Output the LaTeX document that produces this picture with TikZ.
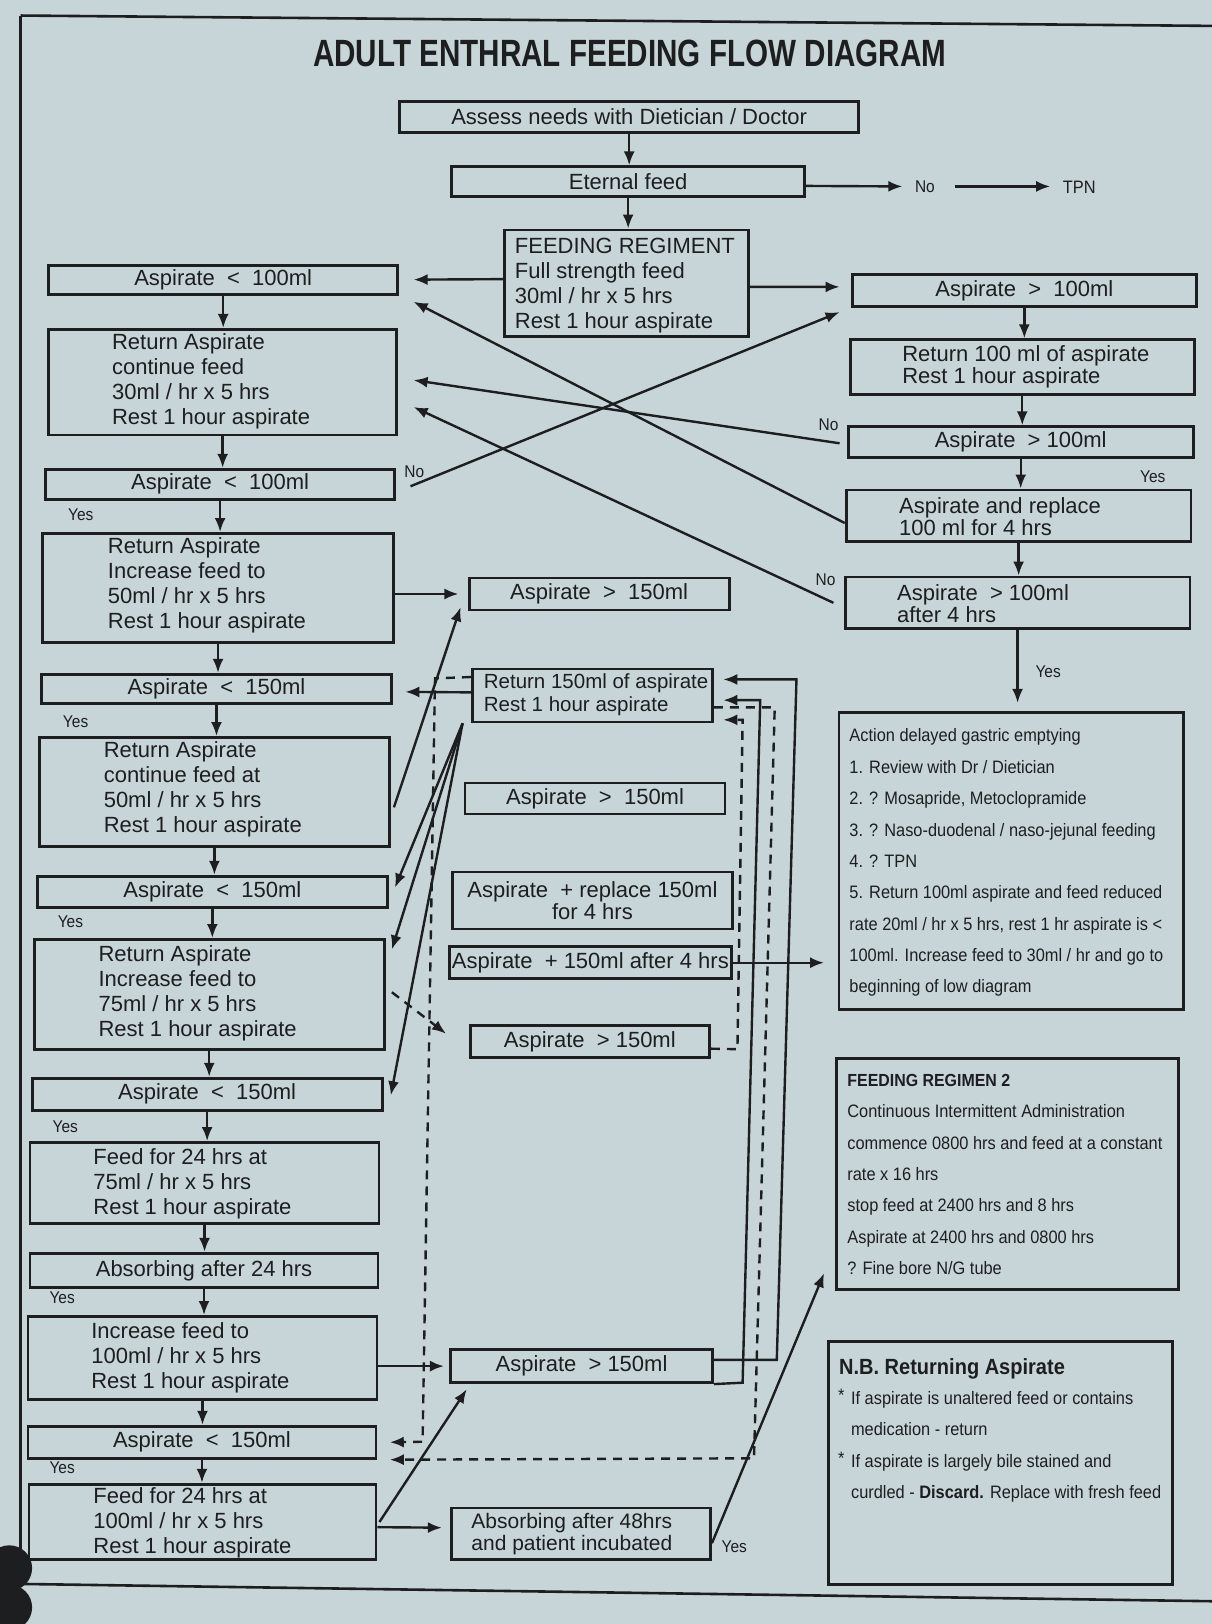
\documentclass[tikz,border=0pt]{standalone}
\usepackage{fontspec}
\setmainfont{Liberation Sans}
\newfontfamily\titlefam[FakeStretch=0.78]{Liberation Sans}
\newfontfamily\narrowfam[FakeStretch=0.91]{Liberation Sans}
\usetikzlibrary{arrows.meta,fit,calc}

\definecolor{paper}{RGB}{200,213,216}
\definecolor{ink}{RGB}{28,30,32}

\newcommand\fTitle{\titlefam\bfseries\fontsize{38}{40}\selectfont}
\newcommand\fBody{\fontsize{22}{24.9}\selectfont}
\newcommand\fMid{\fontsize{20.5}{22.8}\selectfont}
\newcommand\fRight{\fontsize{22}{22.3}\selectfont}
\newcommand\fNote{\narrowfam\fontsize{18}{31.4}\selectfont}
\newcommand\fLbl{\narrowfam\fontsize{17}{18}\selectfont}

\tikzset{
  box/.style={draw=ink, line width=2.8pt, inner sep=0pt},
  txt/.style={text=ink, font=\fBody, inner sep=0pt},
  ltxt/.style={txt, anchor=west, align=left},
  lbl/.style={text=ink, font=\fLbl, inner sep=0pt},
  ln/.style={draw=ink, line width=2.4pt},
  arr/.style={ln, -{Latex[length=14pt,width=11pt]}},
  dsh/.style={dash pattern=on 9pt off 7pt},
}

\begin{document}
\begin{tikzpicture}[x=1.0359pt,y=-1.0359pt]
\useasboundingbox (0,0) rectangle (1170,1568);
\fill[paper] (0,0) rectangle (1170,1568);

% sheet frame and binder holes
\draw[ink, line width=2.6pt] (20,15) -- (1170,25);
\draw[ink, line width=2.6pt] (20,15) -- (20,1530);
\draw[ink, line width=2.6pt] (0,1529) -- (1170,1546);
\fill[ink] (9,1514) circle (22);
\fill[ink] (9,1552) circle (22);

% title
\node[font=\fTitle, text=ink, inner sep=0pt] (title) at (608,52) {ADULT ENTHRAL FEEDING FLOW DIAGRAM};

% ---------- top of the flow ----------
\node[box, fit={(386,98) (829,128)}] (assess) {};
\node[txt] (assesst) at (assess) {Assess needs with Dietician / Doctor};
\node[box, fit={(436,161) (777,190)}] (eternal) {};
\node[txt] (eternalt) at (eternal) {Eternal feed};
\node[lbl] (noE) at (893,180) {No};
\node[lbl, font=\narrowfam\fontsize{18}{19}\selectfont] (tpn) at (1042,181) {TPN};
\node[box, fit={(487,222) (723,325)}] (fr) {};
\node[ltxt] (frt) at (497,276) {FEEDING REGIMENT\\Full strength feed\\30ml / hr x 5 hrs\\Rest 1 hour aspirate};

% ---------- left column ----------
\node[box, fit={(47,256) (384,284)}] (L1) {};
\node[txt] (L1t) at (L1) {Aspirate~~<~~100ml};
\node[box, fit={(47,318) (383,420)}] (L2) {};
\node[ltxt] (L2t) at (108,368) {Return Aspirate\\continue feed\\30ml / hr x 5 hrs\\Rest 1 hour aspirate};
\node[box, fit={(44,453) (381,482)}] (L3) {};
\node[txt] (L3t) at (L3) {Aspirate~~<~~100ml};
\node[box, fit={(41,515) (380,620)}] (L4) {};
\node[ltxt] (L4t) at (104,565) {Return Aspirate\\Increase feed to\\50ml / hr x 5 hrs\\Rest 1 hour aspirate};
\node[box, fit={(40,651) (378,679)}] (L5) {};
\node[txt] (L5t) at (L5) {Aspirate~~<~~150ml};
\node[box, fit={(38,712) (376,817)}] (L6) {};
\node[ltxt] (L6t) at (100,762) {Return Aspirate\\continue feed at\\50ml / hr x 5 hrs\\Rest 1 hour aspirate};
\node[box, fit={(36,846) (374,876)}] (L7) {};
\node[txt] (L7t) at (L7) {Aspirate~~<~~150ml};
\node[box, fit={(33,907) (371,1013)}] (L8) {};
\node[ltxt] (L8t) at (95,959) {Return Aspirate\\Increase feed to\\75ml / hr x 5 hrs\\Rest 1 hour aspirate};
\node[box, fit={(31,1041) (369,1072)}] (L9) {};
\node[txt] (L9t) at (L9) {Aspirate~~<~~150ml};
\node[box, fit={(29,1103) (366,1181)}] (L10) {};
\node[ltxt] (L10t) at (90,1143) {Feed for 24 hrs at\\75ml / hr x 5 hrs\\Rest 1 hour aspirate};
\node[box, fit={(29,1210) (365,1243)}] (L11) {};
\node[txt] (L11t) at (L11) {Absorbing after 24 hrs};
\node[box, fit={(27,1271) (364,1351)}] (L12) {};
\node[ltxt] (L12t) at (88,1311) {Increase feed to\\100ml / hr x 5 hrs\\Rest 1 hour aspirate};
\node[box, fit={(27,1377) (363,1408)}] (L13) {};
\node[txt] (L13t) at (L13) {Aspirate~~<~~150ml};
\node[box, fit={(28,1433) (363,1506)}] (L14) {};
\node[ltxt] (L14t) at (90,1470) {Feed for 24 hrs at\\100ml / hr x 5 hrs\\Rest 1 hour aspirate};

\node[lbl] (y3) at (78,497) {Yes};
\node[lbl] (y5) at (73,697) {Yes};
\node[lbl] (y7) at (68,890) {Yes};
\node[lbl] (y9) at (63,1088) {Yes};
\node[lbl] (y11) at (60,1253) {Yes};
\node[lbl] (y13) at (60,1417) {Yes};

% ---------- middle column ----------
\node[box, fit={(453,558) (704,589)}] (M1) {};
\node[txt] (M1t) at (M1) {Aspirate~~>~~150ml};
\node[box, fit={(456,646) (688,697)}] (M2) {};
\node[ltxt, font=\fMid] (M2t) at (467,671) {Return 150ml of aspirate\\Rest 1 hour aspirate};
\node[box, fit={(449,756) (700,786)}] (M3) {};
\node[txt] (M3t) at (M3) {Aspirate~~>~~150ml};
\node[box, fit={(437,842) (707,897)}] (M4) {};
\node[txt, align=center, font=\fRight] (M4t) at (M4) {Aspirate~~+ replace 150ml\\for 4 hrs};
\node[box, fit={(434,914) (706,945)}] (M5) {};
\node[txt] (M5t) at (M5) {Aspirate~~+ 150ml after 4 hrs};
\node[box, fit={(454,990) (685,1021)}] (M6) {};
\node[txt] (M6t) at (M6) {Aspirate~~> 150ml};
\node[box, fit={(435,1303) (688,1335)}] (M7) {};
\node[txt] (M7t) at (M7) {Aspirate~~> 150ml};
\node[box, fit={(436,1456) (686,1506)}] (M8) {};
\node[ltxt, font=\fontsize{21}{21.8}\selectfont] (M8t) at (455,1481) {Absorbing after 48hrs\\and patient incubated};
\node[lbl] (yM8) at (709,1493) {Yes};

% ---------- right column ----------
\node[box, fit={(823,265) (1155,296)}] (R1) {};
\node[txt] (R1t) at (R1) {Aspirate~~>~~100ml};
\node[box, fit={(821,328) (1153,381)}] (R2) {};
\node[ltxt, font=\fRight] (R2t) at (871,354) {Return 100 ml of aspirate\\Rest 1 hour aspirate};
\node[box, fit={(819,412) (1152,442)}] (R3) {};
\node[txt] (R3t) at (R3) {Aspirate~~> 100ml};
\node[box, fit={(817,473) (1150,523)}] (R4) {};
\node[ltxt, font=\fRight] (R4t) at (868,499) {Aspirate and replace\\100 ml for 4 hrs};
\node[box, fit={(816,557) (1149,607)}] (R5) {};
\node[ltxt, font=\fRight] (R5t) at (866,583) {Aspirate~~> 100ml\\after 4 hrs};
\node[lbl] (yR3) at (1113,460) {Yes};
\node[lbl] (yR5) at (1012,649) {Yes};
\node[lbl] (nR3) at (800,410) {No};
\node[lbl] (nR5) at (797,560) {No};
\node[lbl] (nL3) at (400,455) {No};

\node[box, fit={(810,688) (1143,975)}] (R6) {};
\node[ltxt, font=\fNote] (R6t) at (820,833) {Action delayed gastric emptying\\
1. Review with Dr / Dietician\\
2. ? Mosapride, Metoclopramide\\
3. ? Naso-duodenal / naso-jejunal feeding\\
4. ? TPN\\
5. Return 100ml aspirate and feed reduced\\
rate 20ml / hr x 5 hrs, rest 1 hr aspirate is <\\
100ml. Increase feed to 30ml / hr and go to\\
beginning of low diagram};

\node[box, fit={(808,1022) (1138,1245)}] (fr2) {};
\node[ltxt, font=\fNote] (fr2t) at (818,1134) {{\bfseries\fontsize{17.5}{31.4}\selectfont FEEDING REGIMEN 2}\\
Continuous Intermittent Administration\\
commence 0800 hrs and feed at a constant\\
rate x 16 hrs\\
stop feed at 2400 hrs and 8 hrs\\
Aspirate at 2400 hrs and 0800 hrs\\
? Fine bore N/G tube};

\node[box, fit={(800,1295) (1132,1530)}] (nb) {};
\node[txt, anchor=west, font=\narrowfam\bfseries\fontsize{22}{24}\selectfont] (nbh) at (810,1322) {N.B. Returning Aspirate};
\node[ltxt, font=\fNote, anchor=north west] (nbt) at (809,1341) {\makebox[13pt][l]{\raisebox{3pt}{*}}If aspirate is unaltered feed or contains\\
\hspace*{13pt}medication - return\\
\makebox[13pt][l]{\raisebox{3pt}{*}}If aspirate is largely bile stained and\\
\hspace*{13pt}curdled - \textbf{Discard.} Replace with fresh feed};

% ---------- bend points of the long return lines ----------
\coordinate (s1b) at (750,1313);
\coordinate (s1t) at (769,656);
\coordinate (s2b) at (717,1335);
\coordinate (s2t) at (734,676);
\coordinate (d1b) at (712,1013);
\coordinate (d1t) at (717,695);
\coordinate (d2t) at (748,683);
\coordinate (d2b) at (728,1408);
\coordinate (d3t) at (420,655);
\coordinate (d3b) at (408,1392);

% ---------- connectors ----------
\draw[arr] (assess.south) -- (assess.south |- eternal.north);
\draw[arr] (eternal.south) -- (eternal.south |- fr.north);
\draw[arr] ($(eternal.east)+(0,4)$) -- ($(noE.west)+(-12,0)$);
\draw[arr] ($(noE.east)+(19,0)$) -- ($(tpn.west)+(-12,-1)$);
\draw[arr] ($(fr.west)+(0,-4)$) -- ($(L1.east)+(14,0)$);
\draw[arr] ($(fr.east)+(0,3.5)$) -- ($(R1.west)+(-11,-3.5)$);

\foreach \a/\b in {L1/L2,L2/L3,L3/L4,L4/L5,L5/L6,L6/L7,L7/L8,L8/L9,L9/L10,L10/L11,L11/L12,L12/L13,L13/L14,R1/R2,R2/R3,R3/R4,R4/R5}
  \draw[arr] (\a.south) -- (\a.south |- \b.north);

% crossing lines between the two upper columns
\draw[arr] ($(R4.west)+(0,7)$) -- ($(L1.south east)+(14,6)$);
\draw[arr] ($(R3.west)+(-7,1)$) -- ($(L2.east)+(15,-2)$);
\draw[arr] ($(R5.west)+(-10,0)$) -- ($(L2.east)+(15,24)$);
\draw[arr] ($(L3.east)+(14,2)$) -- ($(R1.south west)+(-11,4)$);

% left column to middle column
\draw[arr] (L4.east |- M1.west) -- ($(M1.west)+(-9,0)$);
\draw[arr] ($(L6.east)+(3,15)$) -- ($(M1.south west)+(-7,-4)$);
\draw[arr] ($(M2.west)+(0,-3)$) -- ($(L5.east)+(12,3)$);
\draw[arr] ($(M2.south west)+(-8,0)$) -- ($(L7.east)+(6,-4)$);
\draw[arr] ($(M2.south west)+(-8,0)$) -- ($(L8.north east)+(6,11)$);
\draw[arr] ($(M2.south west)+(-8,0)$) -- ($(L9.east)+(7,1)$);
\draw[arr, dsh] ($(L8.east)+(6,-2)$) -- ($(M6.west)+(-22,-7.5)$);
\draw[arr] (L12.east |- M7.west) -- ($(M7.west)+(-5,0)$);
\draw[arr] ($(L14.east)+(2,0)$) -- ($(M7.south west)+(17,5)$);
\draw[arr] ($(L14.east)+(0,5)$) -- ($(M8.west)+(-8,-6)$);

% long return lines on the right of the middle column
\draw[arr] ($(M7.east)+(0,-6)$) -- (s1b) -- (s1t) -- ($(M2.east |- s1t)+(9,0)$);
\draw[arr] (M7.south east) -- (s2b) -- (s2t) -- ($(M2.east |- s2t)+(9,0)$);
\draw[arr, dsh] ($(M6.east)+(0,7)$) -- (d1b) -- (d1t) -- ($(M2.east |- d1t)+(9,0)$);
\draw[arr, dsh] ($(M2.east)+(0,11.5)$) -- (d2t) -- (d2b) -- ($(L13.south east)+(12,0)$);
\draw[arr, dsh] ($(M2.north west)+(0,9)$) -- (d3t) -- (d3b) -- ($(L13.east)+(12,0)$);

% right hand side
\draw[arr] (M5.east) -- ($(M5.east -| R6.west)+(-13,0)$);
\draw[arr] (R5.south) -- ($(R5.south |- R6.north)+(0,-8)$);
\draw[arr] ($(M8.east)+(0,9)$) -- ($(fr2.south west)+(-11,-17)$);
\end{tikzpicture}
\end{document}
